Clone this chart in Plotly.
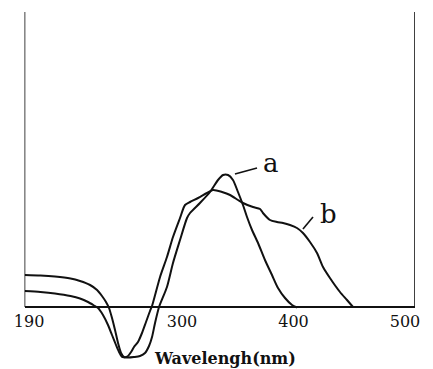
import plotly.graph_objects as go

# Curve a (narrow band)
wl_a = [159, 173, 186, 200, 208.5, 215.7, 221.1, 224.7, 229.1, 233.6, 237.2, 240.8, 243.5,
        246.2, 251.6, 256.9, 262.3, 266.8, 270.4, 273.1, 275.8, 279.4, 286.5, 291.9, 298.2,
        304.5, 307.2, 316.1, 325.1, 332.3, 336.8, 341.3, 345.7, 350.2, 354.7, 358.3, 362.8,
        368.2, 374.4, 380.7, 386.1, 392.4, 398.7, 403.1]
abs_a = [0.16, 0.15, 0.135, 0.11, 0.085, 0.05, 0.015, -0.01, -0.08, -0.18, -0.28, -0.38, -0.45,
         -0.50, -0.505, -0.50, -0.49, -0.46, -0.39, -0.30, -0.16, 0.0, 0.20, 0.44, 0.67,
         0.89, 0.94, 1.04, 1.15, 1.27, 1.32, 1.32, 1.27, 1.15, 1.02, 0.90, 0.77,
         0.64, 0.47, 0.32, 0.19, 0.09, 0.02, -0.005]

# Curve b (broad band with shoulders)
wl_b = [159, 173, 186, 200, 208.5, 217.5, 223.8, 228.2, 231.8, 234.5, 237.2, 239.9, 242.6,
        245.3, 248, 251.6, 254.3, 256.9, 260.5, 264.1, 267.7, 271.3, 273.1, 280.3, 286.5,
        291.9, 298.2, 302.7, 307.2, 314.4, 322.4, 327.8, 335.9, 343.1, 350.2, 354.7, 363.7,
        370, 372.6, 378.9, 385.2, 390.6, 396.9, 403.1, 408.5, 414.8, 421.1, 426.5, 432.7,
        441.7, 448, 453.4]
abs_b = [0.32, 0.315, 0.305, 0.285, 0.26, 0.22, 0.17, 0.11, 0.05, -0.01, -0.11, -0.23, -0.36,
         -0.46, -0.50, -0.49, -0.45, -0.40, -0.35, -0.26, -0.15, -0.04, 0.01, 0.30, 0.50,
         0.70, 0.89, 1.02, 1.05, 1.09, 1.14, 1.17, 1.15, 1.12, 1.07, 1.04, 1.00,
         0.98, 0.94, 0.87, 0.85, 0.84, 0.82, 0.79, 0.74, 0.65, 0.54, 0.40, 0.29,
         0.15, 0.07, 0.0]

tick_vals = [162.8, 300, 400, 500]
tick_text = ["190", "300", "400", "500"]

x_range = [158.7, 509]
y_range = [-0.62, 3.07]
frame_top = 2.95

fig = go.Figure()
for wl, ab in [(wl_a, abs_a), (wl_b, abs_b)]:
    fig.add_trace(go.Scatter(x=wl, y=ab, mode="lines",
                             line=dict(color="#111111", width=2, shape="spline", smoothing=0.7),
                             showlegend=False, hoverinfo="skip"))

# frame verticals
for xv in x_range:
    fig.add_shape(type="line", xref="x", yref="y", x0=xv, x1=xv, y0=0, y1=frame_top,
                  line=dict(color="#111111", width=1.6))

# leader lines for labels
fig.add_shape(type="line", xref="x", yref="y", x0=347.5, y0=1.33, x1=367.3, y1=1.39,
              line=dict(color="#111111", width=1.6))
fig.add_shape(type="line", xref="x", yref="y", x0=408.5, y0=0.78, x1=417.5, y1=0.90,
              line=dict(color="#111111", width=1.6))

fig.add_annotation(x=379.8, y=1.44, text="a", showarrow=False,
                   font=dict(family="DejaVu Serif", size=26, color="#111111"))
fig.add_annotation(x=431.8, y=0.93, text="b", showarrow=False,
                   font=dict(family="DejaVu Serif", size=26, color="#111111"))

# axis title
fig.add_annotation(xref="paper", yref="paper", x=225 / 433, y=0, xanchor="center",
                   yanchor="bottom", text="<b>Wavelengh(nm)</b>", showarrow=False,
                   borderpad=0,
                   font=dict(family="DejaVu Serif", size=16, color="#111111"))

fig.update_layout(
    width=433, height=369,
    margin=dict(l=0, r=0, t=0, b=0, autoexpand=False),
    paper_bgcolor="white", plot_bgcolor="white",
    xaxis=dict(domain=[24.5 / 433, 415 / 433], range=x_range, anchor="free",
               position=62 / 369, showline=True, linecolor="#111111", linewidth=1.6,
               showgrid=False, zeroline=False, ticks="", tickvals=tick_vals,
               ticktext=tick_text, automargin=False,
               tickfont=dict(family="DejaVu Serif", size=16, color="#111111")),
    yaxis=dict(domain=[0, 1], range=y_range, visible=False, showgrid=False, zeroline=False,
               automargin=False),
)

fig.write_html("out.html", config={"displayModeBar": False},
               post_script="document.body.style.margin='0';")
